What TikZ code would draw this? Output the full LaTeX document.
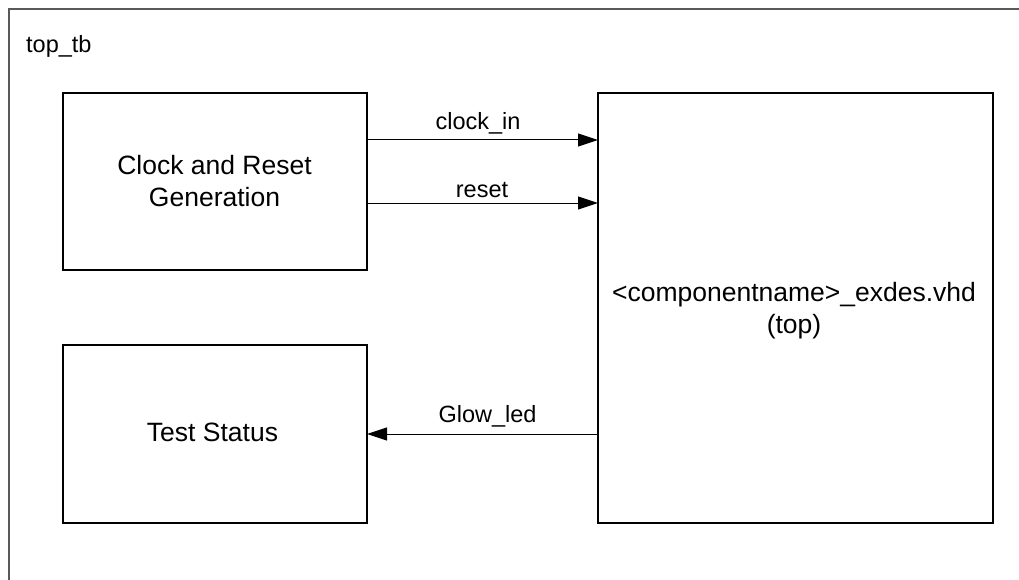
\documentclass[tikz,border=0pt]{standalone}
\usepackage{fontspec}
\setmainfont{Liberation Sans}
\usetikzlibrary{arrows.meta}
\begin{document}
\begin{tikzpicture}[x=1pt,y=-1pt,
  block/.style={draw=black,line width=1.2pt,inner sep=0pt},
  btext/.style={inner sep=0pt,anchor=base,font=\fontsize{26.5}{32}\selectfont},
  sig/.style={draw=black,line width=1pt,-{Triangle[length=20pt,width=13pt]}},
  lbl/.style={font=\fontsize{23.5}{28}\selectfont,inner sep=0pt,anchor=base}]
\useasboundingbox (0,0) rectangle (1019,580);
% enclosing testbench frame
\draw[black!65,line width=1.6pt] (9,590) -- (9,9) -- (1030,9);
\node[lbl,anchor=base west] (tb) at (26,53) {top\_tb};
% blocks
\draw[block] (63,93) rectangle (367,270);
\draw[block] (63,345) rectangle (367,523);
\coordinate (stat) at (367,434);
\draw[block] (598,93) rectangle (993,523);
\node[btext] (clkA) at (214.5,175) {Clock and Reset};
\node[btext] (clkB) at (214.5,207) {Generation};
\node[btext] (statA) at (212.5,441) {Test Status};
\node[btext] (topA) at (794,301) {<componentname>\_exdes.vhd};
\node[btext] (topB) at (794,333) {(top)};
% signals
\coordinate (c1) at (367,140);
\coordinate (c2) at (598,140);
\coordinate (r1) at (367,203);
\coordinate (r2) at (598,203);
\coordinate (g1) at (598,434);
\draw[sig] (c1) -- (c2);
\draw[sig] (r1) -- (r2);
\draw[sig] (g1) -- (stat);
\node[lbl] (lc) at (478,130) {clock\_in};
\node[lbl] (lr) at (482,197) {reset};
\node[lbl] (lg) at (487.5,422) {Glow\_led};
\end{tikzpicture}
\end{document}
